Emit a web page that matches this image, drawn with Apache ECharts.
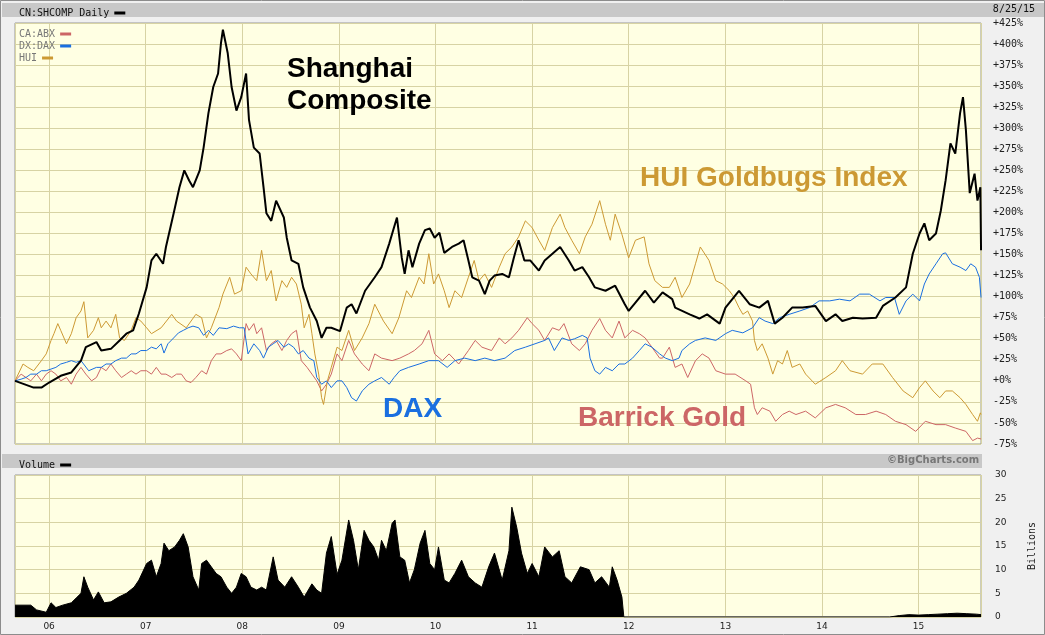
<!DOCTYPE html>
<html>
<head>
<meta charset="utf-8">
<title>CN:SHCOMP Daily</title>
<script src="https://cdn.jsdelivr.net/npm/echarts@6/dist/echarts.min.js"></script>
<style>
  html, body { margin: 0; padding: 0; background: #f0f0f0; }
  #chart { width: 1045px; height: 635px; }
</style>
</head>
<body>
<div id="chart"></div>
<script>
// points are [decimal year, % change since 8/25/05]
var shcomp = [
  [2005.647,0],[2005.84,-8],[2005.92,-8],[2006.00,-2],[2006.12,6],[2006.23,10],[2006.33,24],[2006.38,40],
  [2006.49,46],[2006.54,36],[2006.64,38],[2006.73,48],[2006.80,56],[2006.87,60],[2006.93,80],[2007.01,111],
  [2007.06,143],[2007.11,151],[2007.18,139],[2007.21,159],[2007.29,199],[2007.35,230],[2007.40,250],[2007.45,238],
  [2007.49,230],[2007.56,250],[2007.60,277],[2007.65,318],[2007.70,349],[2007.75,365],[2007.78,401],[2007.80,417],
  [2007.85,389],[2007.89,349],[2007.94,321],[2007.99,337],[2008.04,365],[2008.07,310],[2008.12,277],[2008.18,270],
  [2008.22,230],[2008.25,199],[2008.30,190],[2008.35,214],[2008.43,194],[2008.46,170],[2008.51,143],[2008.58,139],
  [2008.63,111],[2008.70,87],[2008.77,71],[2008.82,51],[2008.87,63],[2008.92,63],[2009.01,59],[2009.08,87],
  [2009.13,91],[2009.18,80],[2009.27,107],[2009.37,123],[2009.44,135],[2009.52,163],[2009.60,194],[2009.65,146],
  [2009.68,127],[2009.72,155],[2009.76,135],[2009.83,163],[2009.89,179],[2009.94,181],[2009.99,170],[2010.04,176],
  [2010.09,152],[2010.17,159],[2010.24,163],[2010.29,167],[2010.34,143],[2010.38,123],[2010.45,119],[2010.51,103],
  [2010.56,119],[2010.61,125],[2010.69,127],[2010.76,123],[2010.81,146],[2010.86,167],[2010.92,143],[2010.98,143],
  [2011.07,131],[2011.13,143],[2011.21,151],[2011.29,159],[2011.38,143],[2011.44,131],[2011.52,135],[2011.59,123],
  [2011.65,111],[2011.76,107],[2011.86,113],[2011.96,91],[2012.00,83],[2012.07,93],[2012.17,107],[2012.26,93],
  [2012.35,105],[2012.45,97],[2012.48,87],[2012.63,79],[2012.73,74],[2012.81,79],[2012.94,68],[2013.00,87],
  [2013.14,107],[2013.25,91],[2013.35,87],[2013.44,95],[2013.51,68],[2013.59,75],[2013.69,87],[2013.80,87],
  [2013.93,89],[2014.04,71],[2014.14,79],[2014.21,71],[2014.32,75],[2014.42,74],[2014.56,75],[2014.63,89],
  [2014.76,99],[2014.87,111],[2014.94,151],[2015.01,175],[2015.06,187],[2015.11,167],[2015.18,175],[2015.23,202],
  [2015.28,238],[2015.33,282],[2015.38,270],[2015.43,318],[2015.46,337],[2015.49,298],[2015.53,223],[2015.58,246],
  [2015.61,214],[2015.64,230],[2015.647,155]
];

var hui = [
  [2005.647,0],[2005.73,20],[2005.78,16],[2005.84,12],[2005.92,24],[2005.97,32],[2006.02,48],[2006.05,56],
  [2006.09,68],[2006.12,60],[2006.18,44],[2006.23,56],[2006.28,75],[2006.33,83],[2006.36,94],[2006.40,51],
  [2006.46,60],[2006.51,75],[2006.54,63],[2006.59,71],[2006.64,63],[2006.69,79],[2006.73,51],[2006.78,48],
  [2006.85,60],[2006.90,75],[2006.95,71],[2007.01,63],[2007.06,56],[2007.16,63],[2007.27,79],[2007.32,71],
  [2007.42,63],[2007.52,79],[2007.58,75],[2007.63,51],[2007.68,63],[2007.76,87],[2007.80,103],[2007.87,123],
  [2007.92,103],[2007.99,107],[2008.04,135],[2008.09,127],[2008.15,119],[2008.20,155],[2008.25,119],[2008.30,131],
  [2008.35,95],[2008.41,119],[2008.46,111],[2008.51,123],[2008.56,115],[2008.61,91],[2008.64,63],[2008.69,79],
  [2008.72,56],[2008.75,32],[2008.79,8],[2008.82,-20],[2008.84,-28],[2008.88,0],[2008.92,16],[2008.98,40],
  [2009.03,36],[2009.10,60],[2009.16,36],[2009.24,51],[2009.31,68],[2009.37,91],[2009.46,71],[2009.55,56],
  [2009.62,75],[2009.70,107],[2009.75,99],[2009.83,123],[2009.88,115],[2009.93,151],[2009.98,115],[2010.03,127],
  [2010.09,107],[2010.14,87],[2010.20,107],[2010.27,99],[2010.34,123],[2010.40,143],[2010.45,119],[2010.51,127],
  [2010.58,111],[2010.66,135],[2010.72,151],[2010.79,159],[2010.86,171],[2010.93,190],[2011.00,182],[2011.07,167],
  [2011.13,155],[2011.21,182],[2011.29,198],[2011.34,182],[2011.41,167],[2011.49,151],[2011.55,171],[2011.62,186],
  [2011.70,214],[2011.76,186],[2011.81,167],[2011.86,198],[2011.93,174],[2012.00,146],[2012.07,167],[2012.16,171],
  [2012.21,139],[2012.27,119],[2012.35,111],[2012.42,111],[2012.48,123],[2012.55,99],[2012.63,115],[2012.69,139],
  [2012.74,159],[2012.83,143],[2012.90,119],[2012.97,115],[2013.04,107],[2013.09,99],[2013.14,87],[2013.18,79],
  [2013.23,83],[2013.28,71],[2013.30,48],[2013.33,36],[2013.38,44],[2013.44,27],[2013.49,8],[2013.54,24],
  [2013.59,20],[2013.64,36],[2013.69,16],[2013.77,20],[2013.83,8],[2013.93,-4],[2014.04,4],[2014.14,12],
  [2014.21,24],[2014.29,12],[2014.42,8],[2014.52,20],[2014.63,20],[2014.73,4],[2014.84,-12],[2014.94,-20],
  [2015.01,-8],[2015.07,0],[2015.15,-12],[2015.22,-20],[2015.28,-12],[2015.35,-12],[2015.43,-20],[2015.49,-28],
  [2015.56,-40],[2015.61,-48],[2015.64,-38],[2015.647,-40]
];

var abx = [
  [2005.647,0],[2005.71,8],[2005.76,4],[2005.81,0],[2005.87,8],[2005.92,0],[2005.97,8],[2006.02,12],
  [2006.07,8],[2006.12,0],[2006.18,4],[2006.23,-4],[2006.28,8],[2006.33,16],[2006.38,8],[2006.44,0],
  [2006.49,4],[2006.54,16],[2006.59,12],[2006.64,20],[2006.69,12],[2006.75,4],[2006.80,8],[2006.85,12],
  [2006.90,8],[2006.95,12],[2007.01,12],[2007.06,8],[2007.11,16],[2007.16,8],[2007.21,8],[2007.27,4],
  [2007.32,8],[2007.37,8],[2007.42,0],[2007.47,-2],[2007.52,4],[2007.58,12],[2007.63,8],[2007.68,24],
  [2007.73,32],[2007.78,32],[2007.84,36],[2007.89,38],[2007.94,32],[2007.99,24],[2008.04,68],[2008.07,60],
  [2008.12,68],[2008.15,56],[2008.20,63],[2008.25,36],[2008.30,44],[2008.35,48],[2008.41,36],[2008.46,48],
  [2008.51,56],[2008.56,60],[2008.61,24],[2008.67,16],[2008.72,8],[2008.77,0],[2008.82,-12],[2008.87,-4],
  [2008.92,8],[2008.98,32],[2009.03,24],[2009.10,48],[2009.16,32],[2009.24,20],[2009.31,12],[2009.37,32],
  [2009.44,27],[2009.55,24],[2009.63,27],[2009.72,32],[2009.78,36],[2009.86,44],[2009.93,60],[2009.99,32],
  [2010.07,24],[2010.14,32],[2010.24,20],[2010.34,36],[2010.41,48],[2010.48,40],[2010.58,36],[2010.66,51],
  [2010.72,44],[2010.79,51],[2010.86,60],[2010.95,75],[2011.00,68],[2011.07,60],[2011.13,48],[2011.21,63],
  [2011.28,60],[2011.33,68],[2011.41,44],[2011.49,36],[2011.55,44],[2011.62,60],[2011.70,74],[2011.76,60],
  [2011.83,51],[2011.90,71],[2011.96,51],[2012.04,60],[2012.11,56],[2012.17,51],[2012.24,40],[2012.32,27],
  [2012.35,27],[2012.42,40],[2012.48,16],[2012.55,20],[2012.61,4],[2012.69,24],[2012.76,32],[2012.83,27],
  [2012.90,12],[2013.00,8],[2013.10,8],[2013.21,0],[2013.26,-4],[2013.30,-32],[2013.33,-40],[2013.38,-32],
  [2013.46,-36],[2013.52,-48],[2013.59,-40],[2013.66,-36],[2013.73,-40],[2013.83,-36],[2013.93,-44],[2014.04,-32],
  [2014.14,-28],[2014.24,-32],[2014.35,-40],[2014.45,-40],[2014.56,-36],[2014.66,-40],[2014.76,-48],[2014.87,-52],
  [2014.97,-60],[2015.07,-48],[2015.18,-52],[2015.28,-52],[2015.38,-56],[2015.49,-60],[2015.56,-71],[2015.61,-68],
  [2015.647,-69]
];

var dax = [
  [2005.647,0],[2005.71,2],[2005.76,4],[2005.81,8],[2005.87,8],[2005.92,12],[2005.97,12],[2006.02,14],
  [2006.07,16],[2006.12,20],[2006.18,22],[2006.23,24],[2006.28,22],[2006.33,24],[2006.41,12],[2006.49,16],
  [2006.54,16],[2006.59,20],[2006.64,20],[2006.69,24],[2006.75,27],[2006.80,27],[2006.85,32],[2006.90,32],
  [2006.95,36],[2007.01,36],[2007.06,40],[2007.11,38],[2007.16,44],[2007.19,33],[2007.23,44],[2007.29,51],
  [2007.34,57],[2007.39,60],[2007.44,63],[2007.49,65],[2007.55,63],[2007.60,54],[2007.65,60],[2007.70,54],
  [2007.76,63],[2007.84,62],[2007.91,65],[2007.97,63],[2008.02,63],[2008.06,32],[2008.12,44],[2008.18,36],
  [2008.22,27],[2008.27,40],[2008.32,44],[2008.37,48],[2008.43,40],[2008.48,44],[2008.53,40],[2008.58,32],
  [2008.63,36],[2008.69,27],[2008.74,24],[2008.77,4],[2008.82,-4],[2008.87,0],[2008.92,-8],[2008.98,0],
  [2009.03,0],[2009.08,-8],[2009.13,-20],[2009.18,-24],[2009.24,-12],[2009.31,-4],[2009.37,0],[2009.44,4],
  [2009.52,-4],[2009.57,4],[2009.63,12],[2009.72,16],[2009.83,20],[2009.93,24],[2010.03,24],[2010.12,16],
  [2010.20,24],[2010.30,27],[2010.41,24],[2010.51,27],[2010.61,24],[2010.72,27],[2010.82,36],[2010.93,40],
  [2011.03,44],[2011.13,48],[2011.17,51],[2011.23,36],[2011.31,51],[2011.38,48],[2011.44,50],[2011.52,54],
  [2011.57,51],[2011.60,27],[2011.65,12],[2011.70,8],[2011.76,16],[2011.83,12],[2011.90,20],[2011.96,20],
  [2012.04,27],[2012.11,36],[2012.17,44],[2012.24,40],[2012.32,32],[2012.38,27],[2012.45,24],[2012.52,27],
  [2012.55,36],[2012.63,44],[2012.69,48],[2012.79,51],[2012.90,48],[2013.00,56],[2013.07,60],[2013.18,57],
  [2013.28,63],[2013.35,75],[2013.41,71],[2013.49,68],[2013.56,75],[2013.66,79],[2013.77,83],[2013.87,87],
  [2013.97,95],[2014.08,95],[2014.18,97],[2014.29,95],[2014.39,103],[2014.49,103],[2014.60,95],[2014.66,99],
  [2014.75,99],[2014.80,79],[2014.87,95],[2014.94,103],[2015.01,95],[2015.06,115],[2015.11,127],[2015.18,139],
  [2015.25,151],[2015.28,152],[2015.35,139],[2015.43,135],[2015.49,131],[2015.54,139],[2015.59,135],[2015.63,123],
  [2015.647,99]
];

// volume, billions
var volume = [
  [2005.647,2.5],[2005.81,2.5],[2005.87,1.5],[2005.97,1],[2006.02,3],[2006.07,2],[2006.14,2.5],[2006.23,3],
  [2006.28,4],[2006.33,5],[2006.36,8.5],[2006.40,6.3],[2006.46,3.6],[2006.51,5.3],[2006.57,3],[2006.64,3.2],
  [2006.72,4.2],[2006.80,5],[2006.88,6.3],[2006.93,7.8],[2007.01,11.3],[2007.06,12],[2007.11,8.5],[2007.16,11.3],
  [2007.19,15.6],[2007.24,14],[2007.30,14.8],[2007.35,16.2],[2007.39,17.6],[2007.44,14.8],[2007.49,8.5],[2007.55,5.7],
  [2007.58,11.3],[2007.63,12],[2007.68,10.6],[2007.73,9.2],[2007.78,8.5],[2007.84,6.3],[2007.89,5],[2007.94,6.3],
  [2007.99,9.2],[2008.04,8.5],[2008.09,6.3],[2008.15,5.7],[2008.20,6.3],[2008.25,5.7],[2008.32,12.7],[2008.37,7.8],
  [2008.44,6.3],[2008.51,8.5],[2008.58,6.3],[2008.64,4.2],[2008.72,7],[2008.77,5.7],[2008.82,5],[2008.87,13.5],
  [2008.92,17],[2008.98,9],[2009.03,12],[2009.10,20.5],[2009.15,16.2],[2009.20,10],[2009.26,18.3],[2009.31,16.2],
  [2009.36,14.8],[2009.41,12],[2009.44,16.2],[2009.49,14],[2009.55,19.8],[2009.58,20.5],[2009.63,12.7],[2009.68,12],
  [2009.73,7.2],[2009.78,10],[2009.84,15.6],[2009.89,18.3],[2009.94,11.3],[2009.99,10],[2010.03,14.8],[2010.09,7.8],
  [2010.14,7.2],[2010.20,9.2],[2010.27,12],[2010.34,8.5],[2010.41,7.2],[2010.48,6.3],[2010.55,10.6],[2010.61,13.5],
  [2010.69,7.8],[2010.76,14],[2010.79,23.2],[2010.84,19],[2010.89,13.5],[2010.95,9.2],[2011.00,11.3],[2011.07,8.5],
  [2011.13,14.8],[2011.21,12.7],[2011.28,14],[2011.34,8.5],[2011.41,7.2],[2011.50,10.6],[2011.59,10],[2011.65,7.2],
  [2011.72,8.5],[2011.80,6.3],[2011.83,10.6],[2011.88,7.8],[2011.93,4.2],[2011.95,0],[2014.70,0],[2014.80,0.3],
  [2014.90,0.5],[2015.00,0.4],[2015.10,0.5],[2015.20,0.6],[2015.30,0.7],[2015.40,0.8],[2015.50,0.7],[2015.60,0.6],
  [2015.647,0.5]
];

function toTime(y) {
  var yr = Math.floor(y);
  var start = Date.UTC(yr, 0, 1), end = Date.UTC(yr + 1, 0, 1);
  return start + (y - yr) * (end - start);
}
function prep(arr) {
  return arr.map(function (p) { return [toTime(p[0]), p[1]]; });
}

var tMin = Date.UTC(2005, 7, 25);
var tMax = Date.UTC(2015, 7, 25);
var gridColor = '#d7d3a4';
var mono = '"DejaVu Sans Mono", monospace';
var bold = 'bold 28px "Liberation Sans", Arial, sans-serif';

function xAxis(idx, showLabels) {
  return {
    type: 'time', gridIndex: idx, min: tMin, max: tMax,
    splitNumber: 10, minInterval: 365 * 864e5,
    axisLine: { show: false }, axisTick: { show: false },
    splitLine: { show: true, lineStyle: { color: gridColor, width: 1 } },
    axisLabel: {
      show: showLabels, color: '#222', fontSize: 9, fontFamily: '"DejaVu Sans", sans-serif',
      margin: 5, showMinLabel: false, showMaxLabel: false,
      formatter: function (v) { return String(new Date(v).getUTCFullYear()).slice(2); }
    }
  };
}

// one small legend per key so each swatch sits right after its own label
function key(name, top, color) {
  return {
    data: [name], left: 14, top: top, align: 'right', icon: 'rect',
    itemWidth: 11, itemHeight: 3, selectedMode: false,
    textStyle: { fontFamily: mono, fontSize: 10, color: color }
  };
}

var chart = echarts.init(document.getElementById('chart'));
chart.setOption({
  animation: false,
  useUTC: true,
  backgroundColor: '#f0f0f0',
  grid: [
    { left: 15, top: 23, width: 966, height: 421, show: true, backgroundColor: '#ffffe3', borderColor: '#999', borderWidth: 1 },
    { left: 15, top: 475, width: 966, height: 142, show: true, backgroundColor: '#ffffe3', borderColor: '#999', borderWidth: 1 }
  ],
  legend: [
    key('CN:SHCOMP Daily', 3, '#111'),
    key('CA:ABX', 24, '#777'),
    key('DX:DAX', 36, '#777'),
    key('HUI', 48, '#777'),
    key('Volume', 455, '#111')
  ],
  xAxis: [xAxis(0, false), xAxis(1, true)],
  yAxis: [
    { type: 'value', gridIndex: 0, position: 'right', min: -75, max: 425, interval: 25,
      axisLine: { show: false }, axisTick: { show: false },
      splitLine: { lineStyle: { color: gridColor } },
      axisLabel: { margin: 12, color: '#222', fontFamily: mono, fontSize: 10,
        formatter: function (v) { return (v >= 0 ? '+' : '') + v + '%'; } } },
    { type: 'value', gridIndex: 1, position: 'right', min: 0, max: 30, interval: 5,
      name: 'Billions', nameLocation: 'middle', nameRotate: 90, nameGap: 46,
      nameTextStyle: { fontFamily: mono, fontSize: 10, color: '#222' },
      axisLine: { show: false }, axisTick: { show: false },
      splitLine: { lineStyle: { color: gridColor } },
      axisLabel: { margin: 14, color: '#222', fontFamily: '"DejaVu Sans", sans-serif', fontSize: 9 } }
  ],
  series: [
    { name: 'CA:ABX', type: 'line', data: prep(abx), showSymbol: false, color: '#cc6666', lineStyle: { width: 1 } },
    { name: 'HUI', type: 'line', data: prep(hui), showSymbol: false, color: '#cc9933', lineStyle: { width: 1 } },
    { name: 'DX:DAX', type: 'line', data: prep(dax), showSymbol: false, color: '#1a6fe0', lineStyle: { width: 1 } },
    { name: 'CN:SHCOMP Daily', type: 'line', data: prep(shcomp), showSymbol: false, color: '#000', lineStyle: { width: 2 } },
    { name: 'Volume', type: 'line', xAxisIndex: 1, yAxisIndex: 1, data: prep(volume), showSymbol: false,
      color: '#000', lineStyle: { width: 1 }, areaStyle: { color: '#000', opacity: 1 } }
  ],
  graphic: [
    { type: 'rect', z: -10, shape: { x: 2, y: 3, width: 1043, height: 14 }, style: { fill: '#c8c8c8' } },
    { type: 'rect', z: -10, shape: { x: 2, y: 454, width: 980, height: 14 }, style: { fill: '#c8c8c8' } },
    { type: 'rect', z: -10, shape: { x: 0.5, y: 0.5, width: 1044, height: 634 }, style: { fill: 'none', stroke: '#8c8c8c', lineWidth: 1 } },
    { type: 'text', z: 100, right: 10, top: 4, style: { text: '8/25/15', font: '10px ' + mono, fill: '#111' } },
    { type: 'text', z: 100, left: 982 - 95, top: 455, style: { text: '\u00a9BigCharts.com', font: 'bold 10px "DejaVu Sans", sans-serif', fill: '#777' } },
    { type: 'text', z: 100, left: 287, top: 55, style: { text: 'Shanghai', font: bold, fill: '#000' } },
    { type: 'text', z: 100, left: 287, top: 87, style: { text: 'Composite', font: bold, fill: '#000' } },
    { type: 'text', z: 100, left: 640, top: 164, style: { text: 'HUI Goldbugs Index', font: bold, fill: '#cc9933' } },
    { type: 'text', z: 100, left: 383, top: 395, style: { text: 'DAX', font: bold, fill: '#1a6fe0' } },
    { type: 'text', z: 100, left: 578, top: 404, style: { text: 'Barrick Gold', font: bold, fill: '#cc6666' } }
  ]
});

window.addEventListener('resize', function () { chart.resize(); });
</script>
</body>
</html>
